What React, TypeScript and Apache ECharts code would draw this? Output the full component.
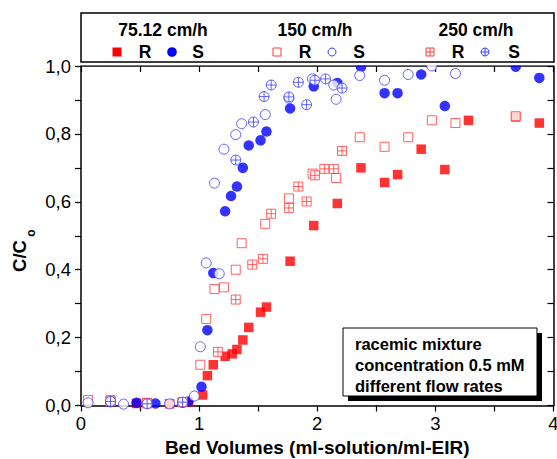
import React, { useEffect, useRef } from "react";
import * as echarts from "echarts";

// Breakthrough curves: C/Co versus bed volumes, R and S enantiomers at three flow rates
const flowRates = ["75.12 cm/h", "150 cm/h", "250 cm/h"];
const enantiomers = ["R", "S"];
const xTickValues = [0, 1, 2, 3, 4];
const yTickValues = [0, 0.2, 0.4, 0.6, 0.8, 1.0];
const noteLines = ["racemic mixture", "concentration 0.5 mM", "different flow rates"];
const xTitle = "Bed Volumes (ml-solution/ml-EIR)";

// 75.12 cm/h
const r75: [number, number][] = [
  [0.25, 0.014], [0.47, 0.006], [0.75, 0.005], [0.91, 0.01], [1.03, 0.031],
  [1.07, 0.088], [1.12, 0.12], [1.22, 0.145], [1.28, 0.152], [1.32, 0.165],
  [1.37, 0.193], [1.42, 0.23], [1.52, 0.275], [1.57, 0.29], [1.77, 0.425],
  [1.97, 0.53], [2.17, 0.595], [2.37, 0.7], [2.57, 0.657], [2.68, 0.68],
  [2.88, 0.755], [3.08, 0.695], [3.28, 0.84], [3.68, 0.85], [3.88, 0.832],
];
const s75: [number, number][] = [
  [0.25, 0.01], [0.47, 0.008], [0.63, 0.006], [0.86, 0.008], [0.91, 0.012],
  [1.02, 0.055], [1.07, 0.222], [1.12, 0.39], [1.22, 0.572], [1.27, 0.617],
  [1.32, 0.645], [1.37, 0.7], [1.42, 0.766], [1.52, 0.781], [1.57, 0.807],
  [1.77, 0.875], [1.97, 0.94], [2.17, 0.95], [2.37, 0.997], [2.57, 0.92],
  [2.68, 0.92], [2.88, 0.975], [3.08, 0.882], [3.68, 0.998], [3.88, 0.965],
];
// 150 cm/h
const r150: [number, number][] = [
  [0.06, 0.016], [0.25, 0.016], [0.56, 0.008], [0.86, 0.01], [1.01, 0.12],
  [1.06, 0.255], [1.13, 0.343], [1.21, 0.348], [1.31, 0.4], [1.36, 0.478],
  [1.56, 0.535], [1.76, 0.61], [1.96, 0.683], [2.16, 0.67], [2.36, 0.79],
  [2.57, 0.762], [2.77, 0.79], [2.97, 0.84], [3.17, 0.832], [3.68, 0.852],
];
const s150: [number, number][] = [
  [0.06, 0.008], [0.36, 0.004], [0.75, 0.005], [0.96, 0.028], [1.01, 0.173],
  [1.06, 0.42], [1.13, 0.655], [1.17, 0.388], [1.21, 0.755], [1.31, 0.798],
  [1.36, 0.83], [1.56, 0.857], [1.76, 0.905], [1.96, 0.962], [2.14, 0.944],
  [2.16, 0.902], [2.36, 0.972], [2.57, 0.958], [2.77, 0.975], [2.97, 1.0],
  [3.17, 0.978],
];
// 250 cm/h
const r250: [number, number][] = [
  [0.25, 0.012], [0.56, 0.006], [0.86, 0.01], [1.16, 0.158], [1.31, 0.312],
  [1.45, 0.415], [1.54, 0.432], [1.61, 0.565], [1.76, 0.582], [1.84, 0.645],
  [1.91, 0.601], [1.98, 0.678], [2.06, 0.697], [2.14, 0.697], [2.21, 0.75],
];
const s250: [number, number][] = [
  [0.25, 0.012], [0.56, 0.005], [0.86, 0.01], [1.31, 0.723], [1.46, 0.835],
  [1.55, 0.91], [1.61, 0.944], [1.76, 0.909], [1.84, 0.952], [1.91, 0.886],
  [1.98, 0.958], [2.07, 0.962], [2.21, 0.935],
];

const FONT = "'Liberation Sans', Arial, Helvetica, sans-serif";
const RED = "#ff0000";
const BLUE = "#0000ff";
const RED_LINE = "#ff3b3b";
const BLUE_LINE = "#3d3dff";

const crossedSquare = "path://M0,0H10V10H0ZM5,0V10M0,5H10";
const crossedCircle = "path://M5,0A5,5 0 1 1 5,10A5,5 0 1 1 5,0ZM5,0V10M0,5H10";

type Marker = "fsq" | "fci" | "osq" | "oci" | "xsq" | "xci";

// Legend key shapes, returned as flat element lists so each keeps its own z
function legendMarker(kind: Marker, cx: number, cy: number, z: number): any[] {
  const h = 4;
  const red = kind === "fsq" || kind === "osq" || kind === "xsq";
  const line = red ? RED_LINE : BLUE_LINE;
  const outline = { fill: "#fff", stroke: line, lineWidth: 1 };
  const crossLines = [
    { type: "line", z: z + 1, shape: { x1: cx - h, y1: cy, x2: cx + h, y2: cy }, style: { stroke: line, lineWidth: 1 } },
    { type: "line", z: z + 1, shape: { x1: cx, y1: cy - h, x2: cx, y2: cy + h }, style: { stroke: line, lineWidth: 1 } },
  ];
  const square = { type: "rect", z, shape: { x: cx - h, y: cy - h, width: 2 * h, height: 2 * h }, style: outline };
  const circle = { type: "circle", z, shape: { cx, cy, r: h }, style: outline };
  switch (kind) {
    case "fsq":
      return [{ type: "rect", z, shape: { x: cx - 4.5, y: cy - 4.5, width: 9, height: 9 }, style: { fill: RED } }];
    case "fci":
      return [{ type: "circle", z, shape: { cx, cy, r: 4.8 }, style: { fill: BLUE } }];
    case "osq":
      return [square];
    case "oci":
      return [circle];
    case "xsq":
      return [square, ...crossLines];
    default:
      return [circle, ...crossLines];
  }
}

function boldText(text: string, x: number, y: number, size: number, z: number, align = "center"): any {
  return {
    type: "text",
    z,
    x,
    y,
    style: { text, fill: "#000", font: `bold ${size}px ${FONT}`, align, verticalAlign: "middle" },
  };
}

const legendGroups: { title: string; cx: number; items: [Marker, number, number][] }[] = [
  { title: flowRates[0], cx: 163, items: [["fsq", 117, 145], ["fci", 172, 198]] },
  { title: flowRates[1], cx: 315, items: [["osq", 277, 305], ["oci", 332, 359]] },
  { title: flowRates[2], cx: 476, items: [["xsq", 430, 458], ["xci", 485, 514]] },
];

function scatter(name: string, data: [number, number][], symbol: string, size: number, filled: boolean, color: string, line: string): any {
  return {
    type: "scatter",
    name,
    data,
    symbol,
    symbolSize: size,
    clip: false,
    itemStyle: filled
      ? { color, borderWidth: 0 }
      : { color: "#ffffff", borderColor: line, borderWidth: 1 },
    emphasis: { disabled: true },
  };
}

export default function App() {
  const ref = useRef<HTMLDivElement>(null);

  useEffect(() => {
    if (!ref.current) return;
    document.body.style.margin = "0";
    const chart = echarts.init(ref.current, null, { renderer: "svg" });

    const axisLine = { show: true, onZero: false, lineStyle: { color: "#000", width: 1.5 } };
    const tickStyle = { color: "#000", width: 1.2 };

    const legendChildren: any[] = [
      // white band hiding marks that poke above the frame
      { type: "rect", z: 10, shape: { x: 70, y: 0, width: 487, height: 65.2 }, style: { fill: "#fff" } },
      { type: "rect", z: 11, shape: { x: 81, y: 13, width: 473, height: 49 }, style: { fill: "#fff", stroke: "#000", lineWidth: 1.5 } },
    ];
    legendGroups.forEach((g) => {
      legendChildren.push(boldText(g.title, g.cx, 30, 17.5, 12));
      g.items.forEach(([kind, mx, lx], i) => {
        legendChildren.push(...legendMarker(kind, mx, 52, 12));
        legendChildren.push(boldText(enantiomers[i], lx, 52, 17.5, 12));
      });
    });

    const noteChildren: any[] = [
      { type: "rect", z: 11, shape: { x: 348, y: 333, width: 194, height: 68 }, style: { fill: "#000" } },
      { type: "rect", z: 12, shape: { x: 343, y: 328, width: 194, height: 68 }, style: { fill: "#fff", stroke: "#000", lineWidth: 1 } },
      ...noteLines.map((t, i) => boldText(t, 355, 344 + i * 21, 16.5, 13, "left")),
    ];

    const yTitle: any[] = [
      {
        type: "text", z: 12, x: 19, y: 256, rotation: Math.PI / 2,
        style: { text: "C/C", fill: "#000", font: `bold 18.5px ${FONT}`, align: "center", verticalAlign: "middle" },
      },
      {
        type: "text", z: 12, x: 31, y: 233, rotation: Math.PI / 2,
        style: { text: "o", fill: "#000", font: `bold 12px ${FONT}`, align: "center", verticalAlign: "middle" },
      },
    ];

    chart.setOption({
      animation: false,
      backgroundColor: "#fff",
      textStyle: { fontFamily: FONT },
      grid: { left: 81, right: 3.5, top: 66, bottom: 53.5, containLabel: false, outerBoundsMode: "none" },
      xAxis: [
        {
          type: "value",
          position: "bottom",
          min: xTickValues[0],
          max: xTickValues[xTickValues.length - 1],
          interval: 1,
          axisLine,
          axisTick: { show: true, inside: false, length: 6, lineStyle: tickStyle },
          minorTick: { show: true, splitNumber: 2, length: 6, lineStyle: tickStyle },
          splitLine: { show: false },
          axisLabel: { color: "#000", fontSize: 18.5, margin: 8, fontFamily: FONT },
          name: xTitle,
          nameLocation: "middle",
          nameGap: 32,
          nameTextStyle: { color: "#000", fontSize: 19, fontWeight: "bold", fontFamily: FONT },
        },
        {
          type: "value",
          position: "top",
          min: xTickValues[0],
          max: xTickValues[xTickValues.length - 1],
          interval: 1,
          axisLine,
          axisTick: { show: true, inside: true, length: 6, lineStyle: tickStyle },
          minorTick: { show: true, splitNumber: 2, length: 6, lineStyle: tickStyle },
          splitLine: { show: false },
          axisLabel: { show: false },
        },
      ],
      yAxis: [
        {
          type: "value",
          position: "left",
          min: yTickValues[0],
          max: yTickValues[yTickValues.length - 1],
          interval: 0.2,
          axisLine,
          axisTick: { show: true, inside: false, length: 6, lineStyle: tickStyle },
          minorTick: { show: true, splitNumber: 2, length: 6, lineStyle: tickStyle },
          splitLine: { show: false },
          axisLabel: {
            color: "#000",
            fontSize: 18.5,
            margin: 10,
            fontFamily: FONT,
            formatter: (v: number) => v.toFixed(1).replace(".", ","),
          },
        },
        {
          type: "value",
          position: "right",
          min: yTickValues[0],
          max: yTickValues[yTickValues.length - 1],
          interval: 0.2,
          axisLine,
          axisTick: { show: true, inside: true, length: 6, lineStyle: tickStyle },
          minorTick: { show: true, splitNumber: 2, length: 6, lineStyle: tickStyle },
          splitLine: { show: false },
          axisLabel: { show: false },
        },
      ],
      series: [
        scatter(`${flowRates[0]} R`, r75, "rect", 9.5, true, RED, RED),
        scatter(`${flowRates[0]} S`, s75, "circle", 10.5, true, BLUE, BLUE),
        scatter(`${flowRates[1]} R`, r150, "rect", 9, false, RED, RED_LINE),
        scatter(`${flowRates[1]} S`, s150, "circle", 10, false, BLUE, BLUE_LINE),
        scatter(`${flowRates[2]} R`, r250, crossedSquare, 9, false, RED, RED_LINE),
        scatter(`${flowRates[2]} S`, s250, crossedCircle, 10, false, BLUE, BLUE_LINE),
      ],
      graphic: [...legendChildren, ...noteChildren, ...yTitle],
    });

    return () => chart.dispose();
  }, []);

  return <div ref={ref} style={{ position: "absolute", left: 0, top: 0, width: 557, height: 459 }} />;
}
